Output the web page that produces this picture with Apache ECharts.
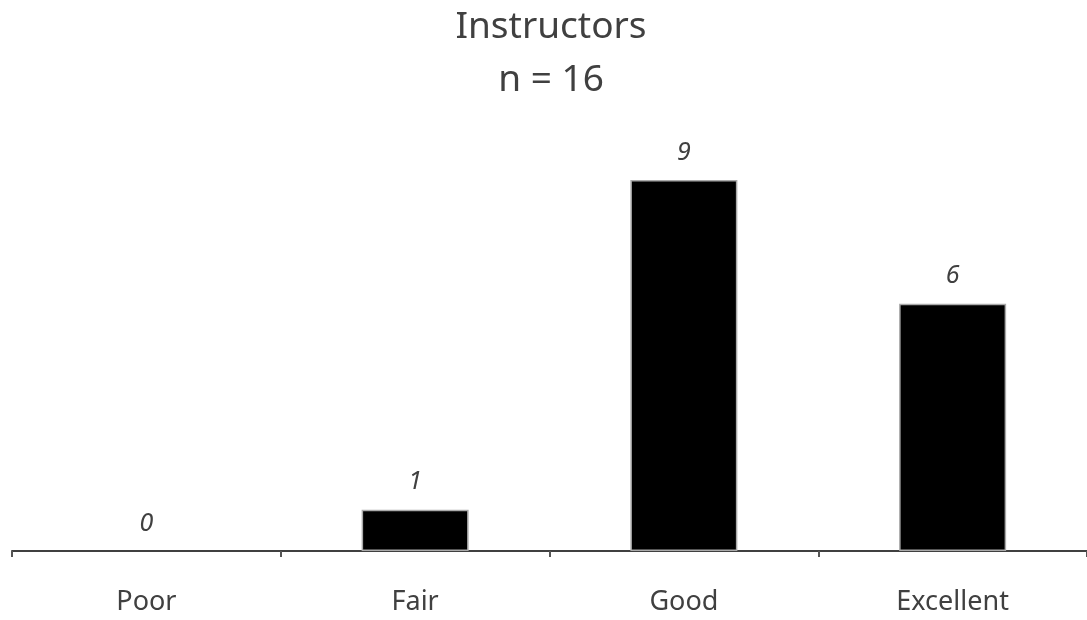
<!DOCTYPE html>
<html>
<head>
<meta charset="utf-8">
<script src="https://cdn.jsdelivr.net/npm/echarts@6/dist/echarts.min.js"></script>
<style>
	html, body { margin: 0; padding: 0; background: #fff; }
	#chart { width: 1087px; height: 620px; }
</style>
</head>
<body>
<div id="chart"></div>
<script>
	// 数据
	const categories = ["Poor", "Fair", "Good", "Excellent"];
	const counts = [0, 1, 9, 6];
	const titleText = "Instructors\nn = 16";

	const chart = echarts.init(document.getElementById("chart"));

	// 0 值不画边框
	const barData = counts.map((v) => ({
		value: v,
		itemStyle: { borderWidth: v === 0 ? 0 : 1.5 },
	}));

	const option = {
		animation: false,
		title: {
			text: titleText,
			left: 546,
			textAlign: "center",
			top: -4,
			textStyle: {
				fontFamily: "Noto Sans",
				fontSize: 37,
				fontWeight: "normal",
				color: "#404040",
				lineHeight: 53,
			},
		},
		grid: {
			left: 12,
			right: 0,
			top: 180,
			bottom: 69,
		},
		xAxis: {
			type: "category",
			data: categories,
			axisLine: {
				lineStyle: { color: "#404040", width: 2 },
			},
			axisTick: {
				show: true,
				length: 6,
				lineStyle: { color: "#555", width: 2 },
			},
			axisLabel: {
				margin: 38,
				fontFamily: "Noto Sans",
				fontSize: 27,
				color: "#404040",
			},
		},
		yAxis: {
			type: "value",
			min: 0,
			max: 9,
			show: false,
		},
		series: [
			{
				type: "bar",
				data: barData,
				barWidth: 107,
				itemStyle: {
					color: "#000",
					borderColor: "#aaa",
					borderWidth: 1.5,
				},
				label: {
					show: true,
					position: "top",
					distance: 15,
					fontFamily: "Noto Sans",
					fontStyle: "italic",
					fontSize: 25,
					color: "#404040",
				},
			},
		],
	};

	chart.setOption(option);
</script>
</body>
</html>
